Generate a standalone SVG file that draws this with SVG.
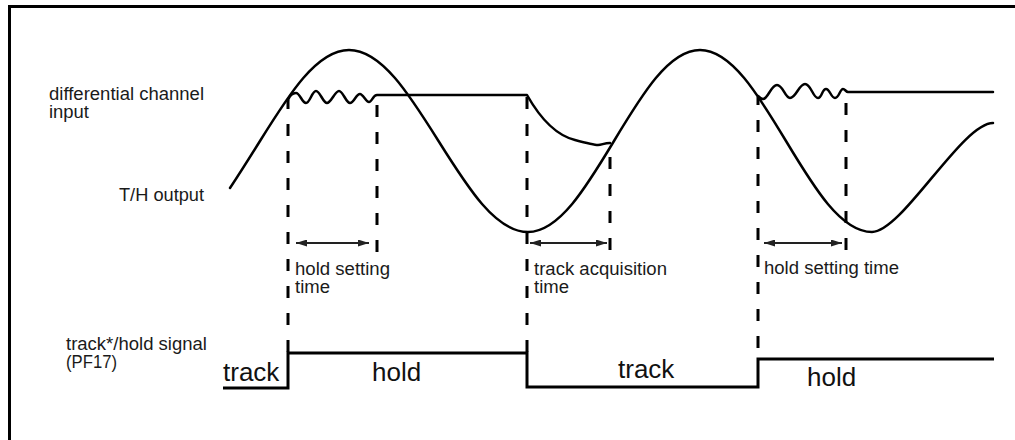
<svg xmlns="http://www.w3.org/2000/svg" width="1015" height="440" viewBox="0 0 1015 440">
  <defs>
    <style>
      .wave { fill: none; stroke: #000; stroke-width: 2.5; stroke-linejoin: round; stroke-linecap: round; }
      .sig { fill: none; stroke: #000; stroke-width: 3; }
      .dash { fill: none; stroke: #000; stroke-width: 3; stroke-dasharray: 12 15; }
      .dim { fill: none; stroke: #222; stroke-width: 2; }
      .lbl { font-family: "Liberation Sans", Arial, sans-serif; font-size: 17.5px; fill: #1a1a1a; }
      .big { font-family: "Liberation Sans", Arial, sans-serif; font-size: 26px; fill: #111; }
    </style>
    <marker id="ah" viewBox="0 0 11 7" refX="11" refY="3.5" markerWidth="11" markerHeight="7" markerUnits="userSpaceOnUse" orient="auto-start-reverse">
      <path d="M0,0 L11,3.5 L0,7 Z" fill="#222"/>
    </marker>
  </defs>

  <rect width="1015" height="440" fill="#fff"/>
  <g id="frame">
    <path d="M9.5,440 V6.5 H1015" fill="none" stroke="#000" stroke-width="3"/>
  </g>

  <g id="input-sine">
    <path class="wave" d="M230,188 C240,173 250,157 260,141 C289,94.4 316.8,50 349,50 C381.4,50 409.3,94.4 438.5,141 C467.7,187.6 495.6,232 528,232 C559.1,232 586,187.6 614,141 C642,94.4 668.9,50 700,50 C731.1,50 758,94.4 786,141 C814,187.6 840.9,232 872,232 C902,232 962,123 993,123"/>
  </g>

  <g id="th-output">
    <path class="wave" d="M288,100 C290,95 293,93 296,93 C300,93 302,103 306,103 C310,103 312,91 316,91 C320,91 323,103 327,103 C331,103 335,91 339,91 C343,91 346,103 350,103 C354,103 356,94 360,94 C363,94 366,102 369,102 C372,102 373,95 377,95 L527,95 C540,118 555,135 575,140 C590,144 594,145 598,145 C602,145 604,143 610,143"/>
    <path class="wave" d="M758,96 C760,98 761,99 763,99 C768,99 771,85 777,85 C783,85 785,98 790,98 C796,98 799,84 805,84 C811,84 813,98 818,98 C822,98 822,89 826,89 C830,89 831,98 835,98 C839,98 840,89 843,89 C845,89 846,92 848,92 L993,92"/>
  </g>

  <g id="track-hold-signal">
    <path class="sig" d="M223,388 L288,388 L288,353 L527,353 L527,387 L758,387 L758,359 L994,359"/>
  </g>

  <g id="connectors">
    <path class="dash" d="M288,352 L288,100"/>
    <path class="dash" d="M377,252 L377,96"/>
    <path class="dash" d="M527,352 L527,96"/>
    <path class="dash" d="M610,250 L610,144"/>
    <path class="dash" d="M758,348 L758,97"/>
    <path class="dash" d="M846,250 L846,93"/>
    <path class="dim" d="M296,243 L369,243" marker-start="url(#ah)" marker-end="url(#ah)"/>
    <path class="dim" d="M530,243 L607,243" marker-start="url(#ah)" marker-end="url(#ah)"/>
    <path class="dim" d="M764,243 L842,243" marker-start="url(#ah)" marker-end="url(#ah)"/>
  </g>

  <g id="label-input">
    <text class="lbl" x="49" y="100" textLength="155" lengthAdjust="spacingAndGlyphs">differential channel</text>
    <text class="lbl" x="49" y="118" textLength="40" lengthAdjust="spacingAndGlyphs">input</text>
  </g>
  <g id="label-output">
    <text class="lbl" x="119" y="201" textLength="85" lengthAdjust="spacingAndGlyphs">T/H output</text>
  </g>
  <g id="label-signal">
    <text class="lbl" x="66" y="350" textLength="141" lengthAdjust="spacingAndGlyphs">track*/hold signal</text>
    <text class="lbl" x="66" y="368" textLength="51" lengthAdjust="spacingAndGlyphs">(PF17)</text>
  </g>
  <g id="label-hold-setting-1">
    <text class="lbl" x="295" y="275" textLength="95" lengthAdjust="spacingAndGlyphs">hold setting</text>
    <text class="lbl" x="295" y="293" textLength="35" lengthAdjust="spacingAndGlyphs">time</text>
  </g>
  <g id="label-track-acq">
    <text class="lbl" x="534" y="275" textLength="133" lengthAdjust="spacingAndGlyphs">track acquisition</text>
    <text class="lbl" x="534" y="293" textLength="35" lengthAdjust="spacingAndGlyphs">time</text>
  </g>
  <g id="label-hold-setting-2">
    <text class="lbl" x="764" y="274" textLength="135" lengthAdjust="spacingAndGlyphs">hold setting time</text>
  </g>
  <g id="state-labels">
    <text class="big" x="223" y="381">track</text>
    <text class="big" x="372" y="381">hold</text>
    <text class="big" x="618" y="378">track</text>
    <text class="big" x="807" y="386">hold</text>
  </g>
</svg>
